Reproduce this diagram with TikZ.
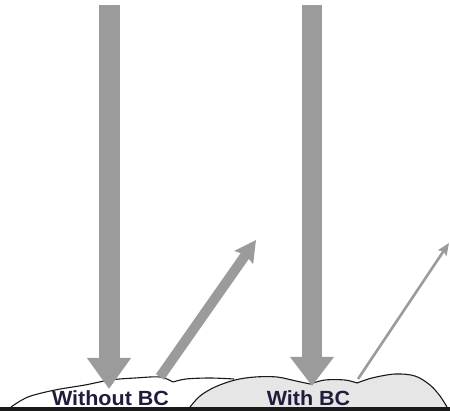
\documentclass[tikz,border=0pt]{standalone}
\usepackage{fontspec}
\setmainfont{Liberation Sans}
\newfontfamily\labelfont[FakeStretch=1.05]{Liberation Sans}
\usetikzlibrary{arrows.meta}
\definecolor{beamgray}{HTML}{9B9B9B}
\definecolor{cloudfill}{HTML}{E6E6E6}
\definecolor{labelink}{HTML}{1E1E3C}
\tikzset{
  beam/.style={draw=beamgray, line cap=butt},
  cloudline/.style={draw=black!90, line width=1.1pt, line join=round},
  label/.style={font=\labelfont\fontsize{20.5}{22}\selectfont\bfseries, text=labelink, anchor=base, inner sep=0pt},
}
\begin{document}
\begin{tikzpicture}[x=1pt,y=-1pt]
  \useasboundingbox (0,0) rectangle (450,411);

  % incoming and reflected beams: end points
  \coordinate (inA)  at (109,5);
  \coordinate (hitA) at (109,389);
  \coordinate (inB)  at (312,5);
  \coordinate (hitB) at (312,386);
  \coordinate (reA0) at (160,377);
  \coordinate (reA1) at (256,240);
  \coordinate (reB0) at (358,379);
  \coordinate (reB1) at (449,243);

  % cloud without black carbon (outline only, white interior)
  \draw[cloudline]
    plot[smooth, tension=0.55] coordinates {(11,407) (28,397) (55,390) (85,385) (110,380) (135,378) (160,377) (173,382)}
    plot[smooth, tension=0.55] coordinates {(173,382) (186,379) (210,378) (234,379)};

  % cloud with black carbon (grey interior)
  \fill[cloudfill]
    plot[smooth, tension=0.55] coordinates {(190,407) (200,396) (215,387) (235,380) (255,377) (277,377) (296,381) (310,384)}
    -- plot[smooth, tension=0.55] coordinates {(310,384) (325,380) (345,380) (357,383)}
    -- plot[smooth, tension=0.55] coordinates {(357,383) (372,378) (395,374) (415,376) (430,385) (440,396) (447,407)}
    -- cycle;
  \draw[cloudline]
    plot[smooth, tension=0.55] coordinates {(190,407) (200,396) (215,387) (235,380) (255,377) (277,377) (296,381) (310,384)}
    plot[smooth, tension=0.55] coordinates {(310,384) (325,380) (345,380) (357,383)}
    plot[smooth, tension=0.55] coordinates {(357,383) (372,378) (395,374) (415,376) (430,385) (440,396) (447,407)};

  % beams
  \draw[beam, line width=21pt, -{Triangle[width=42pt,length=31pt]}] (inA) -- (hitA);
  \draw[beam, line width=20pt, -{Triangle[width=42pt,length=29pt]}] (inB) -- (hitB);
  \draw[beam, line width=10pt, -{Stealth[width=22pt,length=21pt,inset=3pt]}] (reA0) -- (reA1);
  \draw[beam, line width=2.6pt, -{Stealth[width=10pt,length=12pt,inset=2pt]}] (reB0) -- (reB1);

  % labels
  \node[label] (lblA) at (110.5,406) {Without BC};
  \node[label] (lblB) at (308.5,406) {With BC};

  % ground
  \draw[line width=3.6pt, black!90] (0,409.2) -- (450,409.2);
\end{tikzpicture}
\end{document}
